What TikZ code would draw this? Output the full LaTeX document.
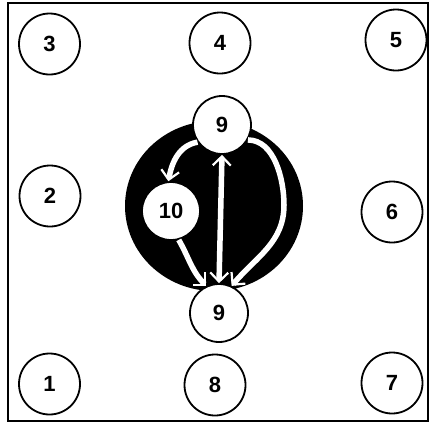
\documentclass[tikz,border=0pt]{standalone}
\usepackage{fontspec}
\setmainfont{Liberation Sans}
\usetikzlibrary{arrows.meta}
\begin{document}
\begin{tikzpicture}[x=1pt,y=-1pt,
  site/.style={circle,draw=black,fill=white,line width=1.8pt,minimum size=61pt,inner sep=0pt,font=\fontsize{22}{26}\selectfont\bfseries},
  inner/.style={site,minimum size=58pt},
  tipw/.tip={Straight Barb[length=9pt,width=18pt,line width=2.2pt]},
  warrow/.style={draw=white,line width=5.5pt,-tipw},
  warrows/.style={draw=white,line width=5.5pt,tipw-tipw}]
\useasboundingbox (0,0) rectangle (433,426);
\draw[line width=2.2pt] (8,3) rectangle (428,421);
\fill[black] (214,206) ellipse[x radius=89, y radius=85];
\node[site] (n3) at (49.5,44) {3};
\node[site] (n4) at (220,43) {4};
\node[site] (n5) at (396,40) {5};
\node[site] (n2) at (50,196) {2};
\node[site] (n6) at (392,212) {6};
\node[site] (n1) at (49.5,384) {1};
\node[site] (n8) at (215,385) {8};
\node[site] (n7) at (392,383) {7};
\node[inner] (t9) at (222,125) {9};
\node[inner] (n10) at (171,211) {10};
\node[inner] (b9) at (219,313) {9};
\draw[warrows] (t9.south) -- (b9.north);
\draw[warrow] (t9.215) to[out=190,in=80] (n10.95);
\draw[warrow] (n10.285) to[out=-60,in=135] (b9.115);
\draw[warrow] (t9.-30) to[out=0,in=90,looseness=0.9] (284,205) to[out=-90,in=50] (b9.65);
\end{tikzpicture}
\end{document}
